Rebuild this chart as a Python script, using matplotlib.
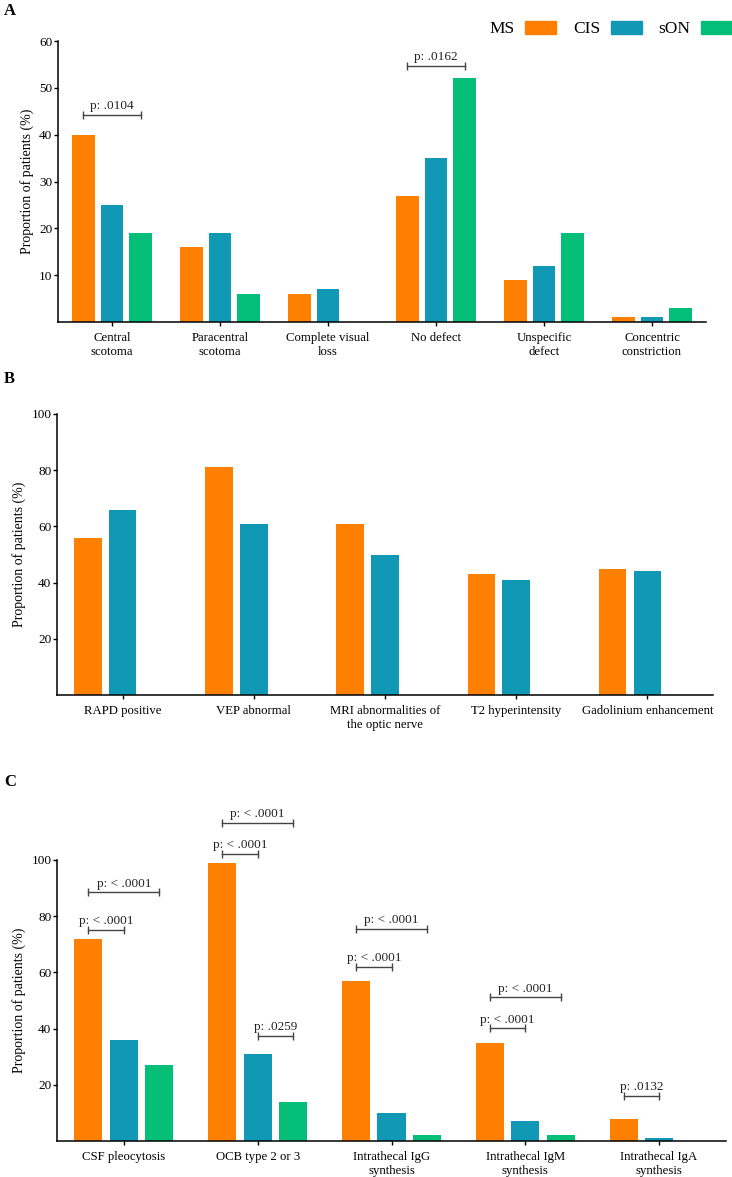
import matplotlib
matplotlib.use('Agg')
import matplotlib.pyplot as plt
from matplotlib.patches import Patch
import numpy as np

plt.rcParams['font.family'] = ['Liberation Serif', 'DejaVu Serif']

# data
groups = ['MS', 'CIS', 'sON']
colors = ['#FF8000', '#1098B4', '#05BF78']

cats_a = ['Central\nscotoma', 'Paracentral\nscotoma', 'Complete visual\nloss',
          'No defect', 'Unspecific\ndefect', 'Concentric\nconstriction']
ms_a = [40, 16, 6, 27, 9, 1]
cis_a = [25, 19, 7, 35, 12, 1]
son_a = [19, 6, 0, 52, 19, 3]

cats_b = ['RAPD positive', 'VEP abnormal', 'MRI abnormalities of\nthe optic nerve',
          'T2 hyperintensity', 'Gadolinium enhancement']
ms_b = [56, 81, 61, 43, 45]
cis_b = [66, 61, 50, 41, 44]

cats_c = ['CSF pleocytosis', 'OCB type 2 or 3', 'Intrathecal IgG\nsynthesis',
          'Intrathecal IgM\nsynthesis', 'Intrathecal IgA\nsynthesis']
ms_c = [72, 99, 57, 35, 8]
cis_c = [36, 31, 10, 7, 1]
son_c = [27, 14, 2, 2, 0]

# significance brackets: (category, group from, group to, height, label)
sig_a = [(0, 0, 2, 44.2, 'p: .0104'), (3, 0, 2, 54.7, 'p: .0162')]
sig_c = [(0, 0, 1, 75.1, 'p: < .0001'), (0, 0, 2, 88.5, 'p: < .0001'),
         (1, 0, 1, 102.1, 'p: < .0001'), (1, 0, 2, 113.2, 'p: < .0001'),
         (1, 1, 2, 37.4, 'p: .0259'),
         (2, 0, 1, 62.0, 'p: < .0001'), (2, 0, 2, 75.4, 'p: < .0001'),
         (3, 0, 1, 40.1, 'p: < .0001'), (3, 0, 2, 51.1, 'p: < .0001'),
         (4, 0, 1, 16.1, 'p: .0132')]

offset = 0.265
width = 0.21

W, H = 732, 1177
fig = plt.figure(figsize=(W / 100, H / 100), dpi=100)


def px_axes(left, right, bottom, top):
    return fig.add_axes([left / W, 1 - bottom / H, (right - left) / W, (bottom - top) / H])


def style(ax, cats, ymax, yticks):
    x = np.arange(len(cats))
    ax.set_xlim(-0.5, len(cats) - 0.5)
    ax.set_ylim(0, ymax)
    ax.set_xticks(x)
    ax.set_xticklabels(cats, fontsize=9.2)
    ax.set_yticks(yticks)
    ax.tick_params(axis='y', labelsize=9.5, length=3, width=1, pad=1)
    ax.tick_params(axis='x', length=3, width=1, pad=4)
    for s in ['top', 'right']:
        ax.spines[s].set_visible(False)
    for s in ['left', 'bottom']:
        ax.spines[s].set_linewidth(1.1)
    ax.set_ylabel('Proportion of patients (%)', fontsize=10, labelpad=4)


def bars(ax, series):
    x = np.arange(len(series[0]))
    for i, vals in enumerate(series):
        ax.bar(x + (i - 1) * offset, vals, width, color=colors[i], linewidth=0)


def brackets(ax, sigs):
    for cat, g0, g1, y, txt in sigs:
        x0 = cat + (g0 - 1) * offset
        x1 = cat + (g1 - 1) * offset
        ax.plot([x0, x1], [y, y], color='#444444', lw=1, clip_on=False,
                marker='|', markersize=6, markeredgewidth=1)
        ax.annotate(txt, ((x0 + x1) / 2, y), xytext=(0, 2), textcoords='offset points',
                    ha='center', va='bottom', fontsize=9.5, color='#222222',
                    annotation_clip=False)


# panel A
ax_a = px_axes(58, 706, 322, 41)
bars(ax_a, [ms_a, cis_a, son_a])
style(ax_a, cats_a, 60, [10, 20, 30, 40, 50, 60])
brackets(ax_a, sig_a)

# panel B
ax_b = px_axes(57, 713, 695, 414)
bars(ax_b, [ms_b, cis_b])
style(ax_b, cats_b, 100, [20, 40, 60, 80, 100])

# panel C
ax_c = px_axes(57, 726, 1141, 860)
bars(ax_c, [ms_c, cis_c, son_c])
style(ax_c, cats_c, 100, [20, 40, 60, 80, 100])
brackets(ax_c, sig_c)

# panel letters
fig.text(4 / W, 1 - 3 / H, 'A', fontsize=12, fontweight='bold', va='top')
fig.text(4 / W, 1 - 371 / H, 'B', fontsize=12, fontweight='bold', va='top')
fig.text(4 / W, 1 - 774 / H, 'C', fontsize=12, fontweight='bold', va='top')

# legend
handles = [Patch(color=c, label=g) for g, c in zip(groups, colors)]
fig.legend(handles=handles, loc='center right', bbox_to_anchor=(1.0, 1 - 29 / H),
           ncol=3, frameon=False, fontsize=12.5, markerfirst=False,
           handlelength=1.8, handleheight=0.75, handletextpad=0.6,
           columnspacing=0.95, borderpad=0, borderaxespad=0)

fig.savefig('out.png', dpi=100)
